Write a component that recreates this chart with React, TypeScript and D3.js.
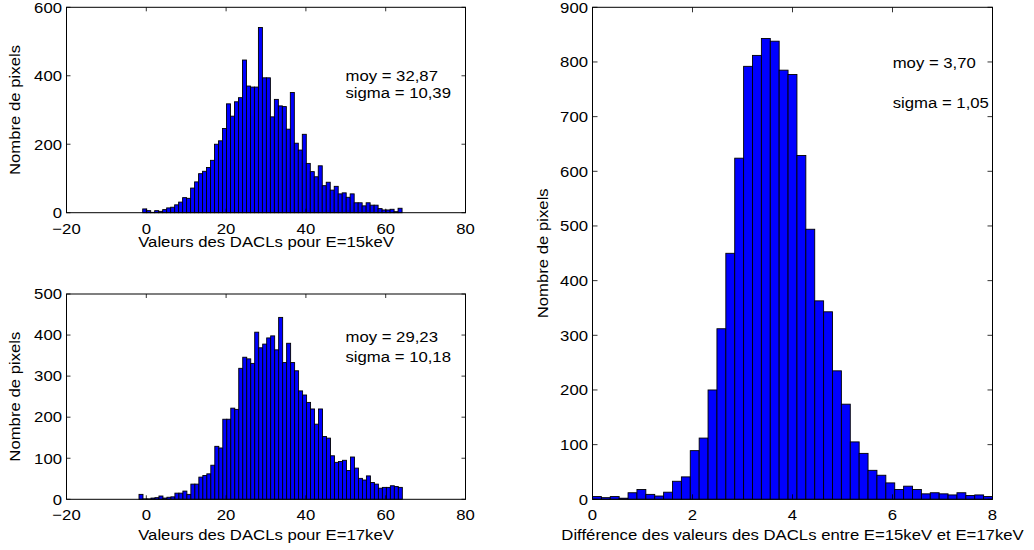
import React from "react";
import * as d3 from "d3";

// ---------- data ----------
const topCounts = [11,6,1,6,4,9,14,16,23,31,44,42,72,90,114,121,132,153,200,210,246,318,282,324,336,446,370,367,367,541,394,394,280,331,312,310,244,351,203,183,229,144,120,105,137,79,89,66,77,55,58,45,55,29,29,20,29,22,22,12,8,8,10,3,13];
const topFirstCenter = -0.4;
const bottomCounts = [12,1,1,3,4,8,3,5,6,15,15,20,12,37,37,54,58,62,83,129,125,195,195,222,219,319,346,342,331,407,369,378,393,398,364,443,333,380,333,313,264,254,236,220,183,220,153,149,106,90,92,95,70,103,76,51,47,57,41,37,27,29,29,33,31,29];
const bottomFirstCenter = -1.33;
const leftBinWidth = 1;
const rightCounts = [5,3,5,2,12,18,9,6,13,33,41,89,112,200,312,450,624,792,812,843,838,785,777,629,494,363,343,235,174,105,84,53,44,30,18,24,18,10,12,10,8,12,7,8,5];
const rightBinStart = 0;
const rightBinWidth = 8 / 45;

const leftXTicks = [-20, 0, 20, 40, 60, 80];
const topYTicks = [0, 200, 400, 600];
const bottomYTicks = [0, 100, 200, 300, 400, 500];
const rightXTicks = [0, 2, 4, 6, 8];
const rightYTicks = [0, 100, 200, 300, 400, 500, 600, 700, 800, 900];

const yLabel = "Nombre de pixels";
const topXLabel = "Valeurs des DACLs pour E=15keV";
const bottomXLabel = "Valeurs des DACLs pour E=17keV";
const rightXLabel = "Différence des valeurs des DACLs entre E=15keV et E=17keV";
const topStats = ["moy = 32,87", "sigma = 10,39"];
const bottomStats = ["moy = 29,23", "sigma = 10,18"];
const rightStats = ["moy = 3,70", "sigma = 1,05"];

// ---------- style ----------
const FONT = "'Liberation Sans', Arial, Helvetica, sans-serif";
const FS = 15;
const SX = 1.115;

const fmt = (v: number) => (v < 0 ? "\u2212" + Math.abs(v) : String(v));

function T({ x, y, anchor = "start", rotate = 0, children }: any) {
  return (
    <text
      transform={`translate(${x},${y}) rotate(${rotate}) scale(${SX},1)`}
      textAnchor={anchor}
      fontFamily={FONT}
      fontSize={FS}
      fill="#000"
    >
      {children}
    </text>
  );
}

type PanelProps = {
  id: string;
  x0: number; x1: number; y0: number; y1: number;
  xDomain: [number, number]; yDomain: [number, number];
  xTicks: number[]; yTicks: number[];
  bins: { x0: number; x1: number; v: number }[];
  xLabel: string; xLabelDy: number;
  yLabelX: number;
  stats: string[]; statsX: number; statsY: number[];
  tickLen: number;
};

function Panel(p: PanelProps) {
  const x = d3.scaleLinear().domain(p.xDomain).range([p.x0, p.x1]);
  const y = d3.scaleLinear().domain(p.yDomain).range([p.y1, p.y0]);
  const tl = p.tickLen;
  return (
    <g>
      <defs>
        <clipPath id={p.id}>
          <rect x={p.x0} y={p.y0 - 2} width={p.x1 - p.x0} height={p.y1 - p.y0 + 4} />
        </clipPath>
      </defs>
      <g clipPath={`url(#${p.id})`}>
        {p.bins.map((b, i) => (
          <rect
            key={i}
            x={x(b.x0)}
            y={y(b.v)}
            width={x(b.x1) - x(b.x0)}
            height={y(0) - y(b.v)}
            fill="#0000ff"
            stroke="#000"
            strokeWidth={0.9}
          />
        ))}
      </g>
      {p.xTicks.map((t) => (
        <g key={"xt" + t}>
          <line x1={x(t)} x2={x(t)} y1={p.y1} y2={p.y1 - tl} stroke="#000" strokeWidth={0.8} />
          <line x1={x(t)} x2={x(t)} y1={p.y0} y2={p.y0 + tl} stroke="#000" strokeWidth={0.8} />
          <T x={x(t)} y={p.y1 + 21} anchor="middle">{fmt(t)}</T>
        </g>
      ))}
      {p.yTicks.map((t) => (
        <g key={"yt" + t}>
          <line x1={p.x0} x2={p.x0 + tl} y1={y(t)} y2={y(t)} stroke="#000" strokeWidth={0.8} />
          <line x1={p.x1} x2={p.x1 - tl} y1={y(t)} y2={y(t)} stroke="#000" strokeWidth={0.8} />
          <T x={p.x0 - 4.5} y={y(t) + 5.3} anchor="end">{fmt(t)}</T>
        </g>
      ))}
      <rect x={p.x0} y={p.y0} width={p.x1 - p.x0} height={p.y1 - p.y0} fill="none" stroke="#000" strokeWidth={1} />
      <T x={(p.x0 + p.x1) / 2} y={p.y1 + p.xLabelDy} anchor="middle">{p.xLabel}</T>
      <T x={p.yLabelX} y={(p.y0 + p.y1) / 2} anchor="middle" rotate={-90}>{yLabel}</T>
      {p.stats.map((s, i) => (
        <T key={s} x={p.statsX} y={p.statsY[i]}>{s}</T>
      ))}
    </g>
  );
}

export default function App() {
  const topBins = topCounts.map((v, i) => {
    const c = topFirstCenter + i * leftBinWidth;
    return { x0: c - leftBinWidth / 2, x1: c + leftBinWidth / 2, v };
  });
  const bottomBins = bottomCounts.map((v, i) => {
    const c = bottomFirstCenter + i * leftBinWidth;
    return { x0: c - leftBinWidth / 2, x1: c + leftBinWidth / 2, v };
  });
  const rightBins = rightCounts.map((v, i) => ({
    x0: rightBinStart + i * rightBinWidth,
    x1: rightBinStart + (i + 1) * rightBinWidth,
    v,
  }));
  return (
    <svg width={1034} height={550} style={{ position: "absolute", left: 0, top: 0, background: "#fff" }}>
      <rect x={0} y={0} width={1034} height={550} fill="#fff" />
      <Panel
        id="cTop" x0={66.5} x1={465.5} y0={7.3} y1={212.7}
        xDomain={[-20, 80]} yDomain={[0, 600]}
        xTicks={leftXTicks} yTicks={topYTicks} bins={topBins}
        xLabel={topXLabel} xLabelDy={34} yLabelX={20}
        stats={topStats} statsX={345.5} statsY={[81.3, 98]} tickLen={4}
      />
      <Panel
        id="cBot" x0={66.5} x1={465.5} y0={294} y1={499.3}
        xDomain={[-20, 80]} yDomain={[0, 500]}
        xTicks={leftXTicks} yTicks={bottomYTicks} bins={bottomBins}
        xLabel={bottomXLabel} xLabelDy={40.5} yLabelX={20}
        stats={bottomStats} statsX={345.5} statsY={[341.7, 362.3]} tickLen={4}
      />
      <Panel
        id="cRight" x0={592.5} x1={992.5} y0={7.3} y1={499.3}
        xDomain={[0, 8]} yDomain={[0, 900]}
        xTicks={rightXTicks} yTicks={rightYTicks} bins={rightBins}
        xLabel={rightXLabel} xLabelDy={40.5} yLabelX={548}
        stats={rightStats} statsX={892.7} statsY={[68, 108.3]} tickLen={5}
      />
    </svg>
  );
}
